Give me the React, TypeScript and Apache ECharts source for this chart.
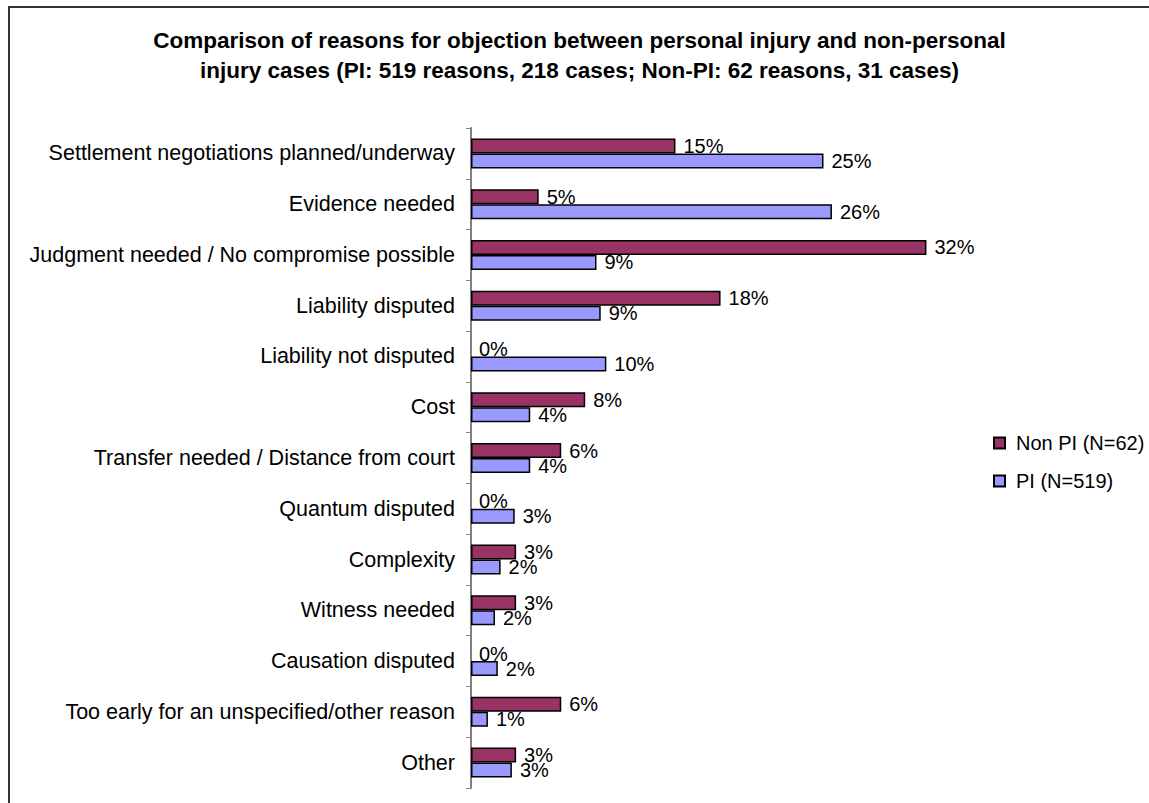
import React, { useEffect, useRef } from "react";
import * as echarts from "echarts";

const categories = [
  "Settlement negotiations planned/underway",
  "Evidence needed",
  "Judgment needed / No compromise possible",
  "Liability disputed",
  "Liability not disputed",
  "Cost",
  "Transfer needed / Distance from court",
  "Quantum disputed",
  "Complexity",
  "Witness needed",
  "Causation disputed",
  "Too early for an unspecified/other reason",
  "Other",
];

// percentages of reasons
const nonPI = [14.5, 4.8, 32.3, 17.7, 0, 8.1, 6.4, 0, 3.2, 3.2, 0, 6.4, 3.2];
const pi = [25.0, 25.6, 8.9, 9.2, 9.6, 4.2, 4.2, 3.1, 2.1, 1.7, 1.9, 1.2, 2.9];

const seriesNames = ["Non PI (N=62)", "PI (N=519)"];
const titleText =
  "Comparison of reasons for objection between personal injury and non-personal\ninjury cases (PI: 519 reasons, 218 cases; Non-PI: 62 reasons, 31 cases)";

const FONT = "'Liberation Sans', Arial, sans-serif";

const toData = (arr: number[]) =>
  arr.map((v) => (v === 0 ? { value: v, itemStyle: { borderWidth: 0 } } : v));

export default function App() {
  const ref = useRef<HTMLDivElement>(null);
  useEffect(() => {
    if (!ref.current) return;
    const chart = echarts.init(ref.current, null, { renderer: "svg" });
    const labelCfg = {
      show: true,
      position: "right",
      distance: 8,
      fontSize: 20,
      fontFamily: FONT,
      color: "#000",
      formatter: (p: any) => Math.round(p.value) + "%",
    };
    chart.setOption({
      animation: false,
      backgroundColor: "#fff",
      textStyle: { fontFamily: FONT },
      title: {
        text: titleText,
        left: 574.5,
        top: 20,
        textAlign: "center",
        textStyle: {
          fontSize: 22.5,
          fontWeight: "bold",
          fontFamily: FONT,
          color: "#000",
          lineHeight: 30,
        },
      },
      graphic: [
        {
          type: "rect",
          shape: { x: 9, y: 7, width: 1300, height: 1000 },
          style: { fill: "none", stroke: "#333", lineWidth: 2 },
          silent: true,
        },
      ],
      legend: {
        orient: "vertical",
        left: 993,
        top: 433,
        itemWidth: 11,
        itemHeight: 11,
        itemGap: 18,
        padding: 0,
        icon: "rect",
        textStyle: { fontSize: 20, fontFamily: FONT, color: "#000", padding: [0, 0, 0, 6] },
        data: seriesNames,
      },
      grid: { left: 471, top: 128, width: 493.5, height: 660, containLabel: false },
      xAxis: {
        type: "value",
        min: 0,
        max: 35,
        show: false,
        splitLine: { show: false },
      },
      yAxis: {
        type: "category",
        inverse: true,
        data: categories,
        axisLine: { show: true, lineStyle: { color: "#808080", width: 2 } },
        axisTick: { show: true, length: 5, lineStyle: { color: "#808080", width: 1 } },
        axisLabel: { fontSize: 21.5, fontFamily: FONT, color: "#000", margin: 16 },
        splitLine: { show: false },
      },
      series: [
        {
          name: seriesNames[0],
          type: "bar",
          data: toData(nonPI),
          barWidth: 15,
          barGap: "0%",
          itemStyle: { color: "#993366", borderColor: "#000", borderWidth: 1.5 },
          label: labelCfg,
        },
        {
          name: seriesNames[1],
          type: "bar",
          data: toData(pi),
          barWidth: 15,
          barGap: "0%",
          itemStyle: { color: "#9999FF", borderColor: "#000", borderWidth: 1.5 },
          label: labelCfg,
        },
      ],
    });
    return () => chart.dispose();
  }, []);
  return (
    <div
      ref={ref}
      style={{ position: "absolute", left: 0, top: 0, width: 1149, height: 803 }}
    />
  );
}
